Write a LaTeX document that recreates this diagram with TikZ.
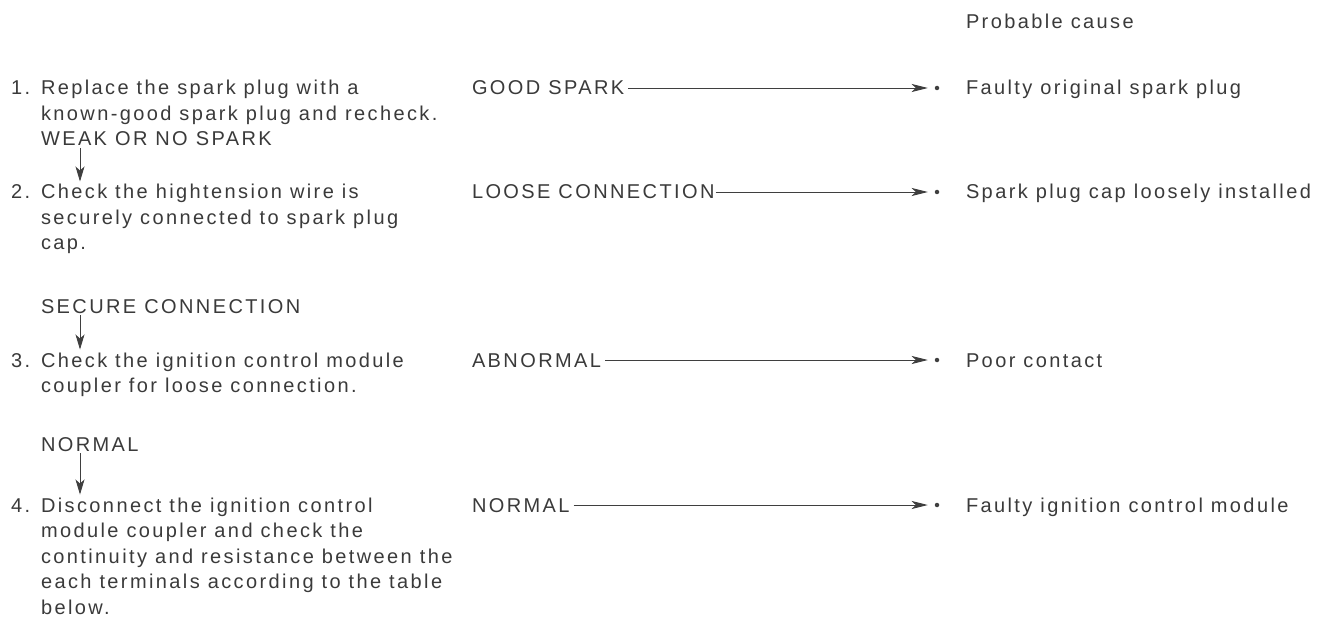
\documentclass[tikz,border=0pt]{standalone}
\usepackage{fontspec}
\setmainfont{Liberation Sans}[LetterSpace=12]
\usetikzlibrary{arrows.meta}
\definecolor{txt}{HTML}{3A3A3A}
\definecolor{ln}{HTML}{3F3F3F}
\newcommand{\stacklines}[1]{\vtop{\def\\{\egroup\hbox\bgroup}\hbox\bgroup#1\egroup}}
\begin{document}
\begin{tikzpicture}[x=1pt,y=-1pt,
  every node/.style={inner sep=0pt, outer sep=0pt, text=txt, font=\fontsize{20}{25.5}\selectfont},
  steptext/.style={anchor=base west},
  num/.style={anchor=base west},
  resultlbl/.style={anchor=base west},
  causetext/.style={anchor=base west},
  dotmark/.style={circle, fill=ln, minimum size=4.5pt, inner sep=0pt},
  harrow/.style={draw=ln, line width=0.9pt, -{Stealth[length=16pt,width=8pt,inset=4pt]}, shorten >=7pt, shorten <=4pt},
  varrow/.style={draw=ln, line width=0.9pt, -{Stealth[length=15pt,width=9pt,inset=4pt]}, shorten <=2pt, shorten >=3pt}
]
\useasboundingbox (0,0) rectangle (1329,628);

% header
\node[causetext] (hdr) at (966,29) {Probable cause};

% step 1
\node[num] (n1) at (11,95) {1.};
\node[steptext] (s1) at (41,95) {\stacklines{Replace the spark plug with a\\known-good spark plug and recheck.}};
\node[steptext] (w1) at (41,146) {WEAK OR NO SPARK};

% step 2
\node[num] (n2) at (11,199) {2.};
\node[steptext] (s2) at (41,199) {\stacklines{Check the hightension wire is\\securely connected to spark plug\\cap.}};
\node[steptext] (w2) at (41,313) {SECURE CONNECTION};

% step 3
\node[num] (n3) at (11,367) {3.};
\node[steptext] (s3) at (41,367) {\stacklines{Check the ignition control module\\coupler for loose connection.}};
\node[steptext] (w3) at (41,451) {NORMAL};

% step 4
\node[num] (n4) at (11,512) {4.};
\node[steptext] (s4) at (41,512) {\stacklines{Disconnect the ignition control\\module coupler and check the\\continuity and resistance between the\\each terminals according to the table\\below.}};

% vertical arrows
\coordinate (ax) at (80,0);
\draw[varrow] (w1.south -| ax) -- (s2.north -| ax);
\draw[varrow] (w2.south -| ax) -- (s3.north -| ax);
\draw[varrow] (w3.south -| ax) -- (s4.north -| ax);

% results
\node[resultlbl] (r1) at (472,95) {GOOD SPARK};
\node[resultlbl] (r2) at (472,199) {LOOSE CONNECTION};
\node[resultlbl] (r3) at (472,367) {ABNORMAL};
\node[resultlbl] (r4) at (472,512) {NORMAL};

% dots
\node[dotmark] (d1) at (937,88) {};
\node[dotmark] (d2) at (937,192) {};
\node[dotmark] (d3) at (937,360) {};
\node[dotmark] (d4) at (937,505) {};

% causes
\node[causetext] (c1) at (966,95) {Faulty original spark plug};
\node[causetext] (c2) at (966,199) {Spark plug cap loosely installed};
\node[causetext] (c3) at (966,367) {Poor contact};
\node[causetext] (c4) at (966,512) {Faulty ignition control module};

% horizontal arrows
\draw[harrow] (r1.east |- d1) -- (d1);
\draw[harrow, shorten <=1pt] (r2.east |- d2) -- (d2);
\draw[harrow] (r3.east |- d3) -- (d3);
\draw[harrow] (r4.east |- d4) -- (d4);
\end{tikzpicture}
\end{document}
